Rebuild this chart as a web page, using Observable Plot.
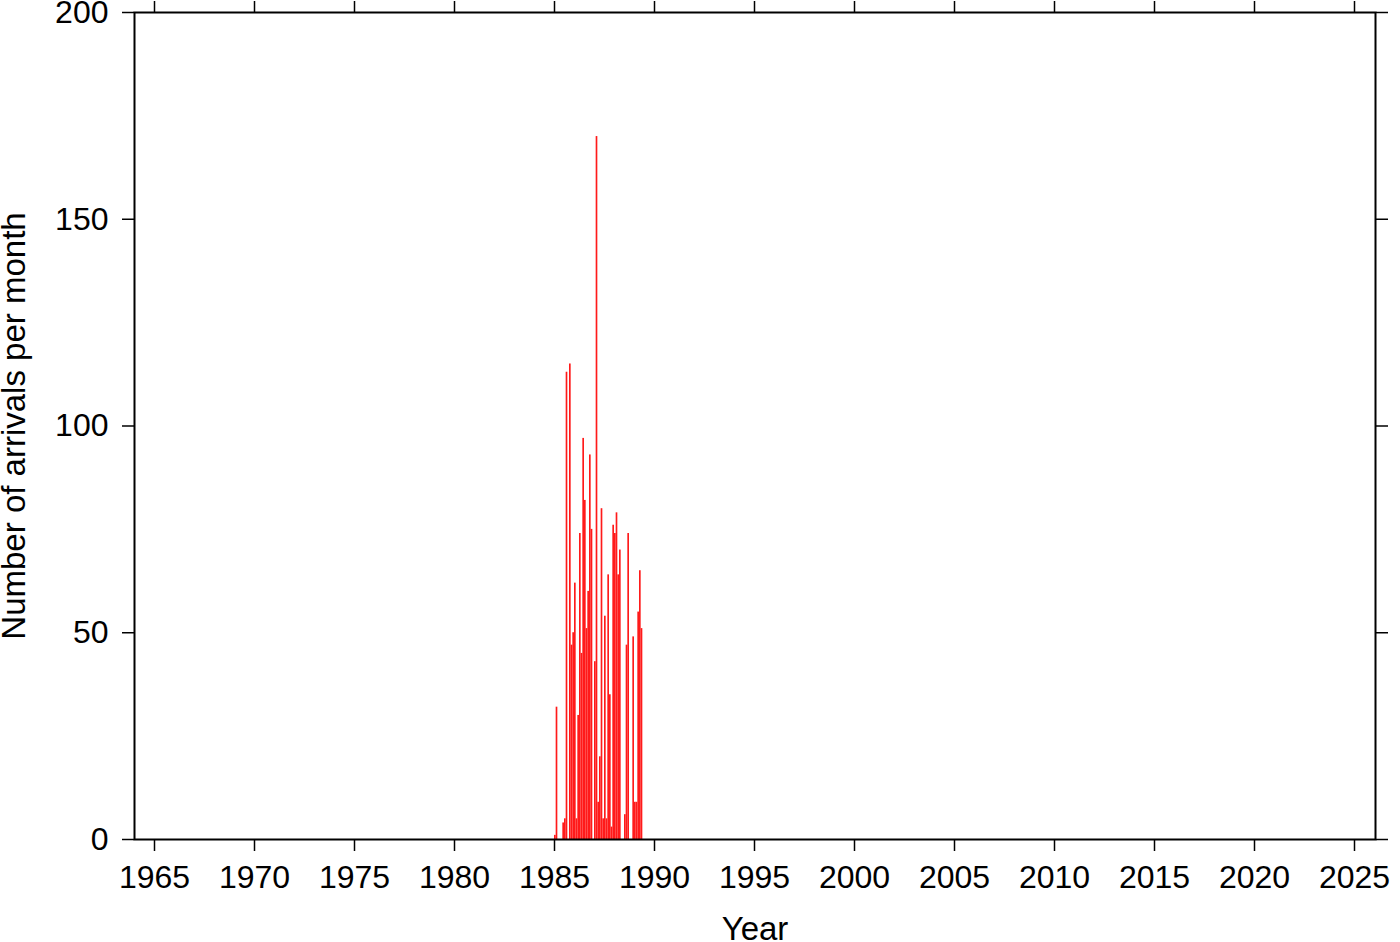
<!DOCTYPE html>
<html>
<head>
<meta charset="utf-8">
<script src="https://cdn.jsdelivr.net/npm/d3@7"></script>
<script src="https://cdn.jsdelivr.net/npm/@observablehq/plot@0.6"></script>
<style>
  html, body { margin: 0; padding: 0; background: #fff; }
  svg { display: block; }
</style>
</head>
<body>
<div id="chart"></div>
<script>
// Monthly arrival counts starting January 1985
const startYear = 1985;
const monthlyCounts = [
  1, 32, 0, 0, 0, 4, 5, 113, 0, 115, 47, 50,
  62, 5, 30, 74, 45, 97, 82, 51, 60, 93, 75, 0,
  43, 170, 9, 20, 80, 5, 54, 5, 64, 35, 3, 76,
  74, 79, 64, 70, 0, 0, 6, 47, 74, 0, 0, 49,
  9, 9, 55, 65, 51
];
const xTicks = [1965, 1970, 1975, 1980, 1985, 1990, 1995, 2000, 2005, 2010, 2015, 2020, 2025];
const yTicks = [0, 50, 100, 150, 200];
const xLabel = "Year";
const yLabel = "Number of arrivals per month";

const data = monthlyCounts.map((v, i) => ({t: startYear + i / 12, count: v}));

const chart = Plot.plot({
  width: 1400,
  height: 942,
  marginTop: 12,
  marginRight: 25,
  marginBottom: 103,
  marginLeft: 134,
  style: {fontFamily: "'Liberation Sans', Arial, Helvetica, sans-serif", fontSize: "32px", color: "black", background: "white"},
  x: {domain: [1964, 2026.05]},
  y: {domain: [0, 200]},
  marks: [
    Plot.rectY(data, {x1: "t", x2: d => d.t + 1 / 12, y: "count", fill: "#ff1a1a"}),
    Plot.axisX({anchor: "bottom", ticks: xTicks, tickFormat: d => String(d), tickSize: 12, tickPadding: 14, strokeWidth: 1.5, fontSize: 32, label: null}),
    Plot.axisX({anchor: "bottom", ticks: [], label: xLabel, labelAnchor: "center", labelArrow: "none", labelOffset: 100, fontSize: 33}),
    Plot.axisX({anchor: "top", ticks: xTicks, tickFormat: () => "", tickSize: 12, strokeWidth: 1.5, label: null}),
    Plot.axisY({anchor: "left", ticks: yTicks, tickSize: 12, tickPadding: 14, strokeWidth: 1.5, fontSize: 32, label: null}),
    Plot.axisY({anchor: "left", ticks: [], label: yLabel, labelAnchor: "center", labelArrow: "none", labelOffset: 133, fontSize: 33}),
    Plot.axisY({anchor: "right", ticks: yTicks, tickFormat: () => "", tickSize: 12, strokeWidth: 1.5, label: null}),
    Plot.frame({stroke: "black", strokeWidth: 2})
  ]
});
document.getElementById("chart").appendChild(chart);
</script>
</body>
</html>
